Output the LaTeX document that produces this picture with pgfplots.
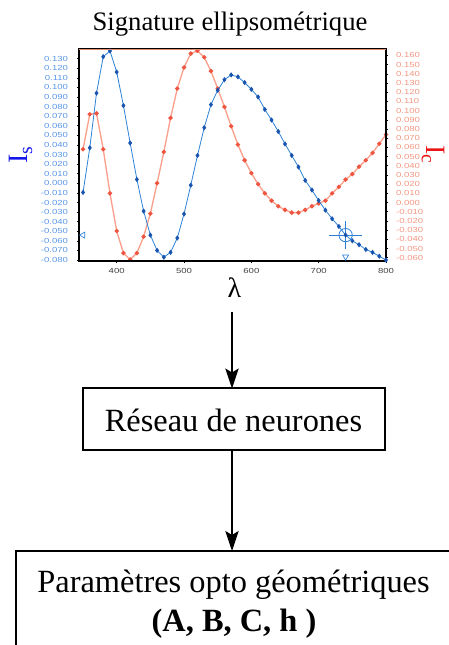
\documentclass[border=0pt]{standalone}
\usepackage{pgfplots}
\pgfplotsset{compat=1.18}
\usepackage{pgfplotstable}
\usepackage{fontspec}
\setmainfont{Liberation Serif}
\setsansfont{Liberation Sans}
\usetikzlibrary{arrows.meta}
\definecolor{blueline}{RGB}{45,130,215}
\definecolor{bluemark}{RGB}{25,85,175}
\definecolor{bluetick}{RGB}{90,150,230}
\definecolor{redline}{RGB}{250,160,140}
\definecolor{redmark}{RGB}{238,85,65}
\definecolor{redtick}{RGB}{242,150,130}
\definecolor{salmon}{RGB}{225,140,115}

\pgfplotstableread{
x s c
350 -0.0095 0.058
360 0.037 0.096
370 0.094 0.097
380 0.132 0.058
390 0.138 0.010
400 0.116 -0.031
410 0.081 -0.055
420 0.042 -0.062
430 0.004 -0.055
440 -0.029 -0.037
450 -0.054 -0.012
460 -0.070 0.021
470 -0.077 0.055
480 -0.072 0.092
490 -0.057 0.124
500 -0.032 0.147
510 -0.002 0.162
520 0.029 0.165
530 0.058 0.158
540 0.082 0.143
550 0.097 0.124
560 0.108 0.104
570 0.113 0.083
580 0.111 0.063
590 0.105 0.046
600 0.098 0.032
610 0.090 0.020
620 0.077 0.010
630 0.066 0.002
640 0.054 -0.004
650 0.041 -0.008
660 0.029 -0.011
670 0.017 -0.011
680 0.003 -0.008
690 -0.007 -0.004
700 -0.018 -0.001
710 -0.028 0.002
720 -0.037 0.010
730 -0.045 0.017
740 -0.054 0.025
750 -0.060 0.031
760 -0.064 0.039
770 -0.069 0.046
780 -0.072 0.054
790 -0.076 0.064
800 -0.080 0.074
}\data

\pgfplotsset{
  common/.style={
    at={(59.25pt,-195.75pt)}, anchor=south west, scale only axis,
    width=230.25pt, height=159pt,
    xmin=344, xmax=800,
    tick align=outside, major tick length=1.5pt,
    tick style={black, line width=0.4pt},
    /pgf/number format/assume math mode=true,
    tick label style={font=\sffamily\fontsize{5.5}{6}\selectfont, xscale=1.3, inner sep=0pt},
  }
}

\begin{document}
\begin{tikzpicture}[x=0.75pt, y=-0.75pt]
\useasboundingbox (0,0) rectangle (449,645);
\clip (0,0) rectangle (449,645);

% red series, right axis
\begin{axis}[common,
  axis x line=none, axis y line*=right,
  axis line style={black, line width=0.8pt},
  ymin=-0.0636, ymax=0.167,
  ytick={-0.06,-0.05,-0.04,-0.03,-0.02,-0.01,0,0.01,0.02,0.03,0.04,0.05,0.06,0.07,0.08,0.09,0.1,0.11,0.12,0.13,0.14,0.15,0.16},
  yticklabel style={color=redtick, anchor=west, xshift=4.5pt,
    /pgf/number format/.cd, fixed, fixed zerofill, precision=3},
]
\addplot[redline, line width=1pt, mark=*, mark size=1.1pt,
  mark options={fill=redmark, draw=redmark}] table[x=x, y=c] {\data};
\end{axis}

% blue series, left axis
\begin{axis}[common,
  axis line style={black, line width=0.8pt},
  xtick pos=left, ytick pos=left,
  ymin=-0.081, ymax=0.14,
  xtick={400,500,600,700,800},
  xticklabel style={color=black!75, anchor=north, yshift=-4pt},
  ytick={-0.08,-0.07,-0.06,-0.05,-0.04,-0.03,-0.02,-0.01,0,0.01,0.02,0.03,0.04,0.05,0.06,0.07,0.08,0.09,0.1,0.11,0.12,0.13},
  yticklabel style={color=bluetick, anchor=east, xshift=-5pt,
    /pgf/number format/.cd, fixed, fixed zerofill, precision=3},
  xticklabel style={/pgf/number format/.cd, fixed, precision=0},
]
\addplot[blueline, line width=0.6pt, mark=diamond*, mark size=1.5pt,
  mark options={fill=bluemark, draw=bluemark}] table[x=x, y=s] {\data};
% cursor
\addplot[blueline, line width=0.6pt, mark=none] coordinates {(715,-0.054) (765,-0.054)};
\addplot[blueline, line width=0.6pt, mark=none] coordinates {(740,-0.0395) (740,-0.0685)};
\addplot[blueline, only marks, mark=o, mark size=5pt, line width=0.6pt] coordinates {(740,-0.054)};
\addplot[blueline, only marks, mark=triangle, mark size=2.6pt, line width=0.5pt,
  mark options={rotate=180}] coordinates {(740,-0.0765)};
\addplot[blueline, only marks, mark=triangle, mark size=2.6pt, line width=0.5pt,
  mark options={rotate=90}] coordinates {(350,-0.054)};
\end{axis}
\draw[salmon, line width=0.5pt] (79,49) -- (386,49);

% axis labels and title
\node[anchor=base, font=\fontsize{20}{24}\selectfont] at (230,30.5) {Signature ellipsométrique};
\node[rotate=90, inner sep=0pt, color={rgb,255:red,20;green,20;blue,235}, font=\fontsize{21}{24}\selectfont] at (21,155) {I\textsubscript{s}};
\node[rotate=-90, inner sep=0pt, color={rgb,255:red,235;green,20;blue,20}, font=\fontsize{21}{24}\selectfont] at (433,155) {I\textsubscript{c}};
\node[anchor=base, font=\fontsize{21}{24}\selectfont] at (234.5,297.5) {λ};

% flow chart
\draw[line width=1.3pt, -{Stealth[length=15pt, width=10pt, inset=3pt]}] (232,312) -- (232,388.5);
\draw[line width=1.3pt] (83.3,388.3) rectangle (385,450);
\node[anchor=base, font=\fontsize{24.3}{28}\selectfont] at (233.5,431) {Réseau de neurones};
\draw[line width=1.3pt, -{Stealth[length=15pt, width=10pt, inset=3pt]}] (232,450) -- (232,551);
\draw[line width=1.3pt] (16,551) rectangle (480,700);
\node[anchor=base, font=\fontsize{24.3}{28}\selectfont] at (233.5,592.7) {Paramètres opto géométriques};
\node[anchor=base, font=\fontsize{24.3}{28}\selectfont\bfseries] at (234,631.7) {(A, B, C, h )};
\end{tikzpicture}
\end{document}
